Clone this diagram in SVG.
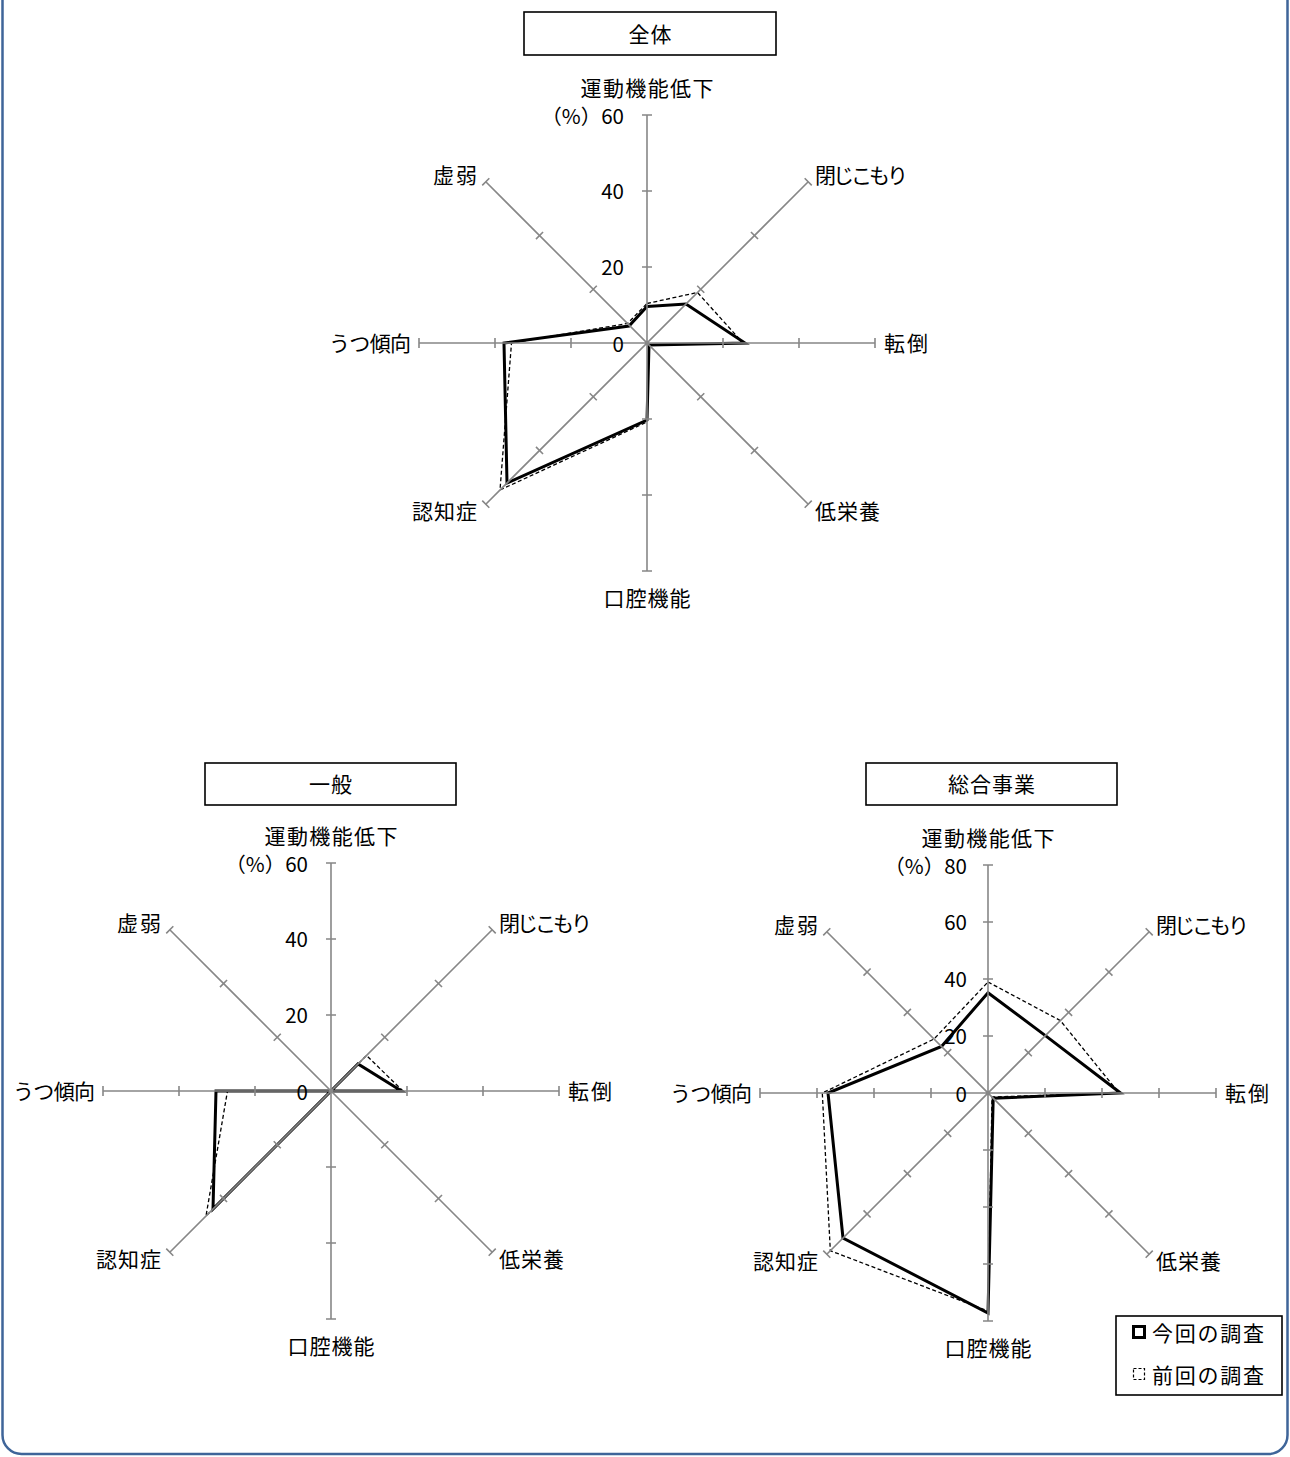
<svg xmlns="http://www.w3.org/2000/svg" xmlns:xlink="http://www.w3.org/1999/xlink" width="1290" height="1457" viewBox="0 0 1290 1457">
  <style>
    text { font-family: "Noto Sans CJK JP", "Noto Sans", sans-serif; fill: #000; }
    .lbl { font-size: 21px; dominant-baseline: central; }
    .num { font-size: 20.5px; dominant-baseline: central; text-anchor: end; }
    .mid { text-anchor: middle; }
    .end { text-anchor: end; }
    .axis { fill: none; stroke: #878787; stroke-width: 1.6; }
    .cur { fill: none; stroke: #000; stroke-width: 3; stroke-linejoin: miter; }
    .prev { fill: none; stroke: #000; stroke-width: 1.3; stroke-dasharray: 4 2.5; }
    .box { fill: #fff; stroke: #000; stroke-width: 1.6; }
  </style>
  <defs>
    <!-- eight radial axes with ticks every 20 (max 60) -->
    <g id="axes60">
      <path class="axis" d="M0,-228V228M-228,0H228M-161.22,-161.22L161.22,161.22M161.22,-161.22L-161.22,161.22"/>
      <path class="axis" d="M-5,-76h10M-5,-152h10M-5,-228h10M-5,76h10M-5,152h10M-5,228h10
        M-76,-5v10M-152,-5v10M-228,-5v10M76,-5v10M152,-5v10M228,-5v10
        M50.2,-57.28l7.07,7.07M-57.28,50.2l7.07,7.07M-57.28,-50.2l7.07,-7.07M50.2,57.28l7.07,-7.07
        M103.94,-111.02l7.07,7.07M-111.02,103.94l7.07,7.07M-111.02,-103.94l7.07,-7.07M103.94,111.02l7.07,-7.07
        M157.68,-164.76l7.07,7.07M-164.76,157.68l7.07,7.07M-164.76,-157.68l7.07,-7.07M157.68,164.76l7.07,-7.07"/>
    </g>
    <!-- eight radial axes with ticks every 20 (max 80) -->
    <g id="axes80">
      <path class="axis" d="M0,-228V228M-228,0H228M-161.22,-161.22L161.22,161.22M161.22,-161.22L-161.22,161.22"/>
      <path class="axis" d="M-5,-57h10M-5,-114h10M-5,-171h10M-5,-228h10M-5,57h10M-5,114h10M-5,171h10M-5,228h10
        M-57,-5v10M-114,-5v10M-171,-5v10M-228,-5v10M57,-5v10M114,-5v10M171,-5v10M228,-5v10
        M36.77,-43.85l7.07,7.07M-43.85,36.77l7.07,7.07M-43.85,-36.77l7.07,-7.07M36.77,43.85l7.07,-7.07
        M77.07,-84.15l7.07,7.07M-84.15,77.07l7.07,7.07M-84.15,-77.07l7.07,-7.07M77.07,84.15l7.07,-7.07
        M117.38,-124.46l7.07,7.07M-124.46,117.38l7.07,7.07M-124.46,-117.38l7.07,-7.07M117.38,124.46l7.07,-7.07
        M157.68,-164.76l7.07,7.07M-164.76,157.68l7.07,7.07M-164.76,-157.68l7.07,-7.07M157.68,164.76l7.07,-7.07"/>
    </g>
    <!-- category labels around a chart -->
    <g id="cats">
      <text class="lbl mid" x="0" y="-256" textLength="133">運動機能低下</text>
      <text class="lbl" x="168" y="-169" textLength="93">閉じこもり</text>
      <text class="lbl" x="237" y="-1" textLength="44">転倒</text>
      <text class="lbl" x="168" y="167" textLength="65">低栄養</text>
      <text class="lbl mid" x="0" y="254" textLength="87">口腔機能</text>
      <text class="lbl end" x="-170" y="167" textLength="65">認知症</text>
      <text class="lbl end" x="-236" y="-1" textLength="82">うつ傾向</text>
      <text class="lbl end" x="-170" y="-169" textLength="44">虚弱</text>
    </g>
  </defs>

  <!-- panel frame -->
  <rect x="2.5" y="-30" width="1285" height="1484" rx="19" fill="#fff" stroke="#3f6599" stroke-width="2.5"/>

  <!-- 全体 -->
  <g id="chart-all">
    <rect class="box" x="524" y="12" width="252" height="43"/>
    <text class="lbl mid" x="650" y="33" textLength="43">全体</text>
    <g transform="translate(647,343)">
      <polygon class="prev" points="0,-39.5 50.5,-50.5 96,0 2,2 0,79 -147,147 -135.5,0 -19.5,-19.5"/>
      <polygon class="cur" points="0,-36.5 39,-39 98,0 2,2 0,77 -140,140 -143,0 -18,-17"/>
      <use xlink:href="#axes60"/>
      <text class="num" x="-23" y="-228">（%）60</text>
      <text class="num" x="-23" y="-153">40</text>
      <text class="num" x="-23" y="-77">20</text>
      <text class="num" x="-23" y="0">0</text>
      <use xlink:href="#cats"/>
    </g>
  </g>

  <!-- 一般 -->
  <g id="chart-general">
    <rect class="box" x="205" y="763" width="251" height="42"/>
    <text class="lbl mid" x="330.5" y="783" textLength="43">一般</text>
    <g transform="translate(331,1091)">
      <polygon class="prev" points="0,0 35.5,-35.5 72,0 0,0 0,0 -125,125 -103.5,0 0,0"/>
      <polygon class="cur" points="0,0 27,-27 70.5,0 0,0 0,0 -118,118 -115,0 0,0"/>
      <use xlink:href="#axes60"/>
      <text class="num" x="-23" y="-228">（%）60</text>
      <text class="num" x="-23" y="-153">40</text>
      <text class="num" x="-23" y="-77">20</text>
      <text class="num" x="-23" y="0">0</text>
      <use xlink:href="#cats"/>
    </g>
  </g>

  <!-- 総合事業 -->
  <g id="chart-comprehensive">
    <rect class="box" x="866" y="763" width="251" height="42"/>
    <text class="lbl mid" x="991.5" y="783" textLength="87">総合事業</text>
    <g transform="translate(988,1093)">
      <polygon class="prev" points="0,-111 72.4,-72.4 131,0 4,4 0,218 -157.7,157.7 -165.7,0 -54,-54"/>
      <polygon class="cur" points="0,-100.3 57.4,-57.4 132.5,0 5.2,5.2 0,220 -145,145 -160,0 -46.5,-46.5"/>
      <use xlink:href="#axes80"/>
      <text class="num" x="-21" y="-228">（%）80</text>
      <text class="num" x="-21" y="-172">60</text>
      <text class="num" x="-21" y="-115">40</text>
      <text class="num" x="-21" y="-58">20</text>
      <text class="num" x="-21" y="0">0</text>
      <use xlink:href="#cats"/>
    </g>
  </g>

  <!-- legend -->
  <g id="legend">
    <rect class="box" x="1116" y="1316" width="166" height="79"/>
    <rect x="1133.5" y="1326.5" width="11" height="11" fill="none" stroke="#000" stroke-width="3"/>
    <text class="lbl" x="1152" y="1332" textLength="112">今回の調査</text>
    <rect x="1133.5" y="1368.5" width="11" height="11" fill="none" stroke="#000" stroke-width="1.2" stroke-dasharray="3 2"/>
    <text class="lbl" x="1152" y="1374" textLength="112">前回の調査</text>
  </g>
</svg>
